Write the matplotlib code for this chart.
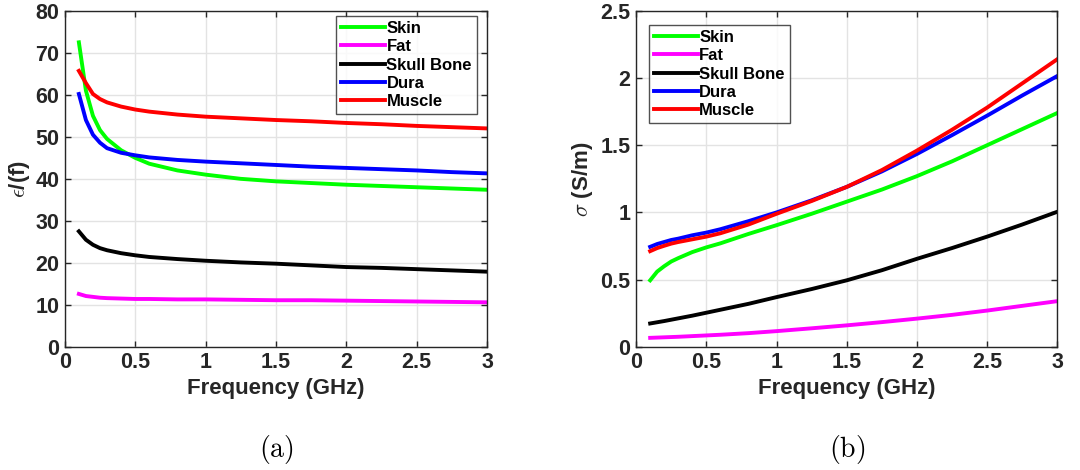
import matplotlib
matplotlib.use("Agg")
import matplotlib.pyplot as plt

plt.rcParams['font.family'] = ['Liberation Sans', 'DejaVu Sans']
plt.rcParams['font.weight'] = 'bold'
plt.rcParams['mathtext.fontset'] = 'cm'

# tissue names and colours
tissues = ['Skin', 'Fat', 'Skull Bone', 'Dura', 'Muscle']
colors = ['#00ff00', '#ff00ff', '#000000', '#0000ff', '#ff0000']

# frequency samples (GHz)
freq = [0.1, 0.15, 0.2, 0.25, 0.3, 0.4, 0.5, 0.6, 0.8, 1.0, 1.25, 1.5, 1.75, 2.0, 2.25, 2.5, 2.75, 3.0]

# relative permittivity (a)
eps_skin   = [72.5, 61.0, 55.0, 51.6, 49.5, 46.8, 45.0, 43.6, 42.0, 41.0, 40.0, 39.4, 39.0, 38.6, 38.3, 38.0, 37.7, 37.4]
eps_fat    = [12.6, 12.1, 11.9, 11.7, 11.6, 11.5, 11.4, 11.4, 11.3, 11.3, 11.2, 11.1, 11.1, 11.0, 10.9, 10.8, 10.7, 10.6]
eps_skull  = [27.5, 25.5, 24.3, 23.5, 23.0, 22.3, 21.8, 21.4, 20.9, 20.5, 20.1, 19.8, 19.4, 19.0, 18.8, 18.5, 18.2, 17.9]
eps_dura   = [60.2, 54.0, 50.5, 48.6, 47.3, 46.2, 45.6, 45.1, 44.5, 44.1, 43.7, 43.3, 42.9, 42.6, 42.3, 42.0, 41.6, 41.3]
eps_muscle = [65.7, 62.8, 60.2, 59.0, 58.2, 57.2, 56.5, 56.0, 55.3, 54.8, 54.4, 54.0, 53.7, 53.3, 53.0, 52.6, 52.3, 52.0]

# conductivity (b), S/m
sig_skin   = [0.495, 0.56, 0.60, 0.635, 0.66, 0.705, 0.74, 0.77, 0.84, 0.905, 0.99, 1.08, 1.17, 1.27, 1.38, 1.50, 1.62, 1.74]
sig_fat    = [0.067, 0.069, 0.071, 0.073, 0.075, 0.080, 0.085, 0.090, 0.102, 0.117, 0.138, 0.160, 0.184, 0.210, 0.238, 0.270, 0.305, 0.340]
sig_skull  = [0.174, 0.183, 0.192, 0.202, 0.212, 0.232, 0.254, 0.276, 0.32, 0.37, 0.43, 0.495, 0.57, 0.655, 0.735, 0.82, 0.91, 1.005]
sig_dura   = [0.744, 0.765, 0.78, 0.795, 0.805, 0.83, 0.85, 0.875, 0.935, 1.0, 1.09, 1.19, 1.305, 1.435, 1.575, 1.72, 1.87, 2.015]
sig_muscle = [0.712, 0.735, 0.752, 0.768, 0.78, 0.80, 0.82, 0.845, 0.91, 0.99, 1.085, 1.19, 1.315, 1.46, 1.615, 1.78, 1.96, 2.14]

xticks = [0, 0.5, 1, 1.5, 2, 2.5, 3]
xlabels = ['0', '0.5', '1', '1.5', '2', '2.5', '3']
eps_ticks = [0, 10, 20, 30, 40, 50, 60, 70, 80]
sig_ticks = [0, 0.5, 1, 1.5, 2, 2.5]
sig_labels = ['0', '0.5', '1', '1.5', '2', '2.5']

fig = plt.figure(figsize=(10.8, 4.7), dpi=100)
ax1 = fig.add_axes([0.060, 0.262, 0.391, 0.715])
ax2 = fig.add_axes([0.589, 0.262, 0.390, 0.715])


def style(ax, yticks, ylabels):
    ax.set_xlim(0, 3)
    ax.set_xticks(xticks)
    ax.set_xticklabels(xlabels)
    ax.set_yticks(yticks)
    ax.set_yticklabels(ylabels)
    ax.set_ylim(yticks[0], yticks[-1])
    ax.grid(True, color='#e3e3e3', linewidth=1.0)
    ax.set_axisbelow(True)
    ax.tick_params(direction='in', length=4, width=1, labelsize=15.5,
                   top=True, right=True, colors='#262626', labelcolor='#262626', pad=4)
    for sp in ax.spines.values():
        sp.set_color('#262626')
        sp.set_linewidth(1.0)
    ax.set_xlabel('Frequency (GHz)', fontsize=16, fontweight='bold', color='#262626', labelpad=3)


eps_data = [eps_skin, eps_fat, eps_skull, eps_dura, eps_muscle]
sig_data = [sig_skin, sig_fat, sig_skull, sig_dura, sig_muscle]

for name, c, y in zip(tissues, colors, eps_data):
    ax1.plot(freq, y, color=c, lw=2.8, label=name)
for name, c, y in zip(tissues, colors, sig_data):
    ax2.plot(freq, y, color=c, lw=2.8, label=name)

style(ax1, eps_ticks, [str(t) for t in eps_ticks])
style(ax2, sig_ticks, sig_labels)

ax1.set_ylabel(r'$\epsilon$/(f)', fontsize=16, fontweight='bold', color='#262626', labelpad=2)
ax2.set_ylabel(r'$\sigma$ (S/m)', fontsize=16, fontweight='bold', color='#262626', labelpad=4)

leg_kw = dict(fontsize=12, frameon=True, fancybox=False, handlelength=2.6,
              handletextpad=0.1, labelspacing=0.2, borderpad=0.3, borderaxespad=0.0)
l1 = ax1.legend(loc='upper right', bbox_to_anchor=(0.976, 0.985), **leg_kw)
l2 = ax2.legend(loc='upper left', bbox_to_anchor=(0.031, 0.958), **leg_kw)
for lg in (l1, l2):
    lg.get_frame().set_edgecolor('#262626')
    lg.get_frame().set_linewidth(1.0)
    for t in lg.get_texts():
        t.set_fontweight('bold')

fig.text(276 / 1080, 1 - 450 / 470, r'$\mathrm{(a)}$', ha='center', va='center', fontsize=20)
fig.text(847 / 1080, 1 - 450 / 470, r'$\mathrm{(b)}$', ha='center', va='center', fontsize=20)

fig.savefig('out.png', dpi=100)
